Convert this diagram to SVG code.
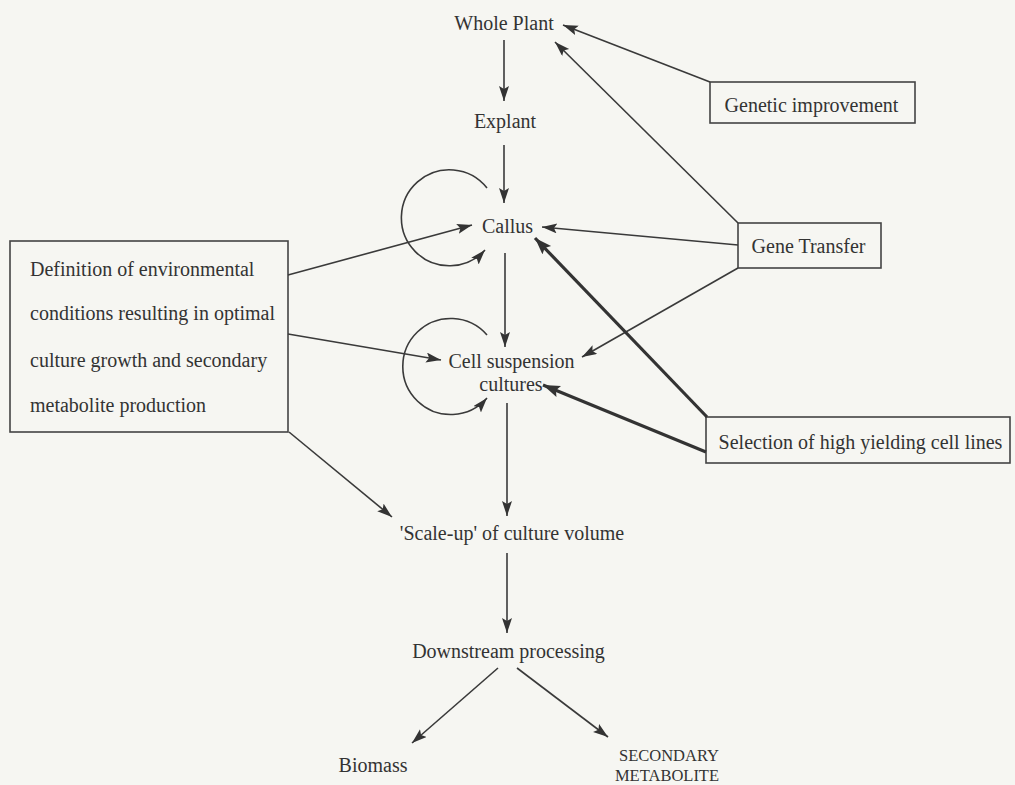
<svg xmlns="http://www.w3.org/2000/svg" width="1015" height="785" viewBox="0 0 1015 785">
<style>
text{font-family:"Liberation Serif","Times New Roman",serif;font-size:20px;fill:#333}
.c{text-anchor:middle}
.sm{font-size:16.5px}
.box{fill:none;stroke:#444;stroke-width:1.6}
.ln{fill:none;stroke:#3a3a3a;stroke-width:1.6;marker-end:url(#ah)}
.thick{fill:none;stroke:#333;stroke-width:3.2;marker-end:url(#ahb)}
</style>
<defs>
<marker id="ah" markerUnits="userSpaceOnUse" markerWidth="16" markerHeight="12" refX="15" refY="5" orient="auto">
<path d="M0,0 L15,5 L0,10 L3,5 z" fill="#333"/>
</marker>
<marker id="ahb" markerUnits="userSpaceOnUse" markerWidth="18" markerHeight="14" refX="17" refY="6" orient="auto">
<path d="M0,0 L17,6 L0,12 L3,6 z" fill="#333"/>
</marker>
</defs>
<rect width="1015" height="785" fill="#f6f6f2"/>

<g id="whole-plant"><text class="c" x="504" y="30">Whole Plant</text></g>
<g id="explant"><text class="c" x="505" y="128">Explant</text></g>
<g id="callus"><text class="c" x="507.5" y="233">Callus</text></g>
<g id="cell-suspension"><text class="c" x="511.5" y="368">Cell suspension</text><text class="c" x="511" y="391">cultures</text></g>
<g id="scale-up"><text class="c" x="512" y="540">'Scale-up' of culture volume</text></g>
<g id="downstream"><text class="c" x="508.5" y="658">Downstream processing</text></g>
<g id="biomass"><text class="c" x="373" y="772">Biomass</text></g>
<g id="secondary-metabolite"><text class="c sm" x="669" y="761">SECONDARY</text><text class="c sm" x="667" y="781">METABOLITE</text></g>

<g id="genetic-improvement"><rect class="box" x="710" y="82" width="205" height="41"/><text class="c" x="811.5" y="112">Genetic improvement</text></g>
<g id="gene-transfer"><rect class="box" x="738" y="223" width="143" height="45"/><text class="c" x="808.5" y="253">Gene Transfer</text></g>
<g id="selection"><rect class="box" x="706" y="417" width="304" height="46"/><text class="c" x="860.5" y="449">Selection of high yielding cell lines</text></g>
<g id="definition"><rect class="box" x="10" y="241" width="278" height="191"/>
<text x="30" y="276">Definition of environmental</text>
<text x="30" y="320">conditions resulting in optimal</text>
<text x="30" y="367">culture growth and secondary</text>
<text x="30" y="412">metabolite production</text></g>

<g id="connectors">
<path class="ln" d="M504,40 L504,101"/>
<path class="ln" d="M504,145 L504,203"/>
<path class="ln" d="M505,253 L505,347"/>
<path class="ln" d="M507,403 L507,516"/>
<path class="ln" d="M507,553 L507,633"/>
<path class="ln" d="M498,668 L412,743"/>
<path class="ln" d="M517,668 L608,737"/>
<path class="ln" d="M710,82 L563,25"/>
<path class="ln" d="M738,223 L555,42"/>
<path class="ln" d="M738,245 L542,227"/>
<path class="ln" d="M738,268 L582,357"/>
<path class="thick" d="M707,417 L535,238"/>
<path class="thick" d="M706,452 L543,385"/>
<path class="ln" d="M288,275 L472,225"/>
<path class="ln" d="M288,334 L441,360"/>
<path class="ln" d="M289,432 L392,517"/>
<path class="ln" d="M487,188 A48,48 0 1 0 485,250"/>
<path class="ln" d="M487,335 A48,48 0 1 0 487,398"/>
</g>
</svg>
